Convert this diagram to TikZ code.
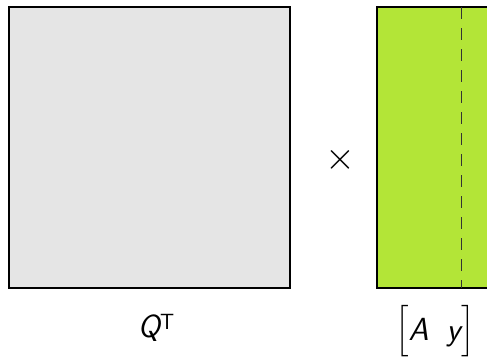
\RequirePackage{fix-cm}
\documentclass[tikz,border=0pt]{standalone}
\usepackage{amsmath}
\usepackage{graphicx}
\definecolor{qgray}{HTML}{E5E5E5}
\definecolor{lime}{HTML}{B3E537}
\tikzset{
  matbox/.style={draw=black, line width=2.2pt},
  lbl/.style={font=\fontsize{32}{38}\selectfont\sffamily},
}
\begin{document}
\begin{tikzpicture}[x=1pt,y=-1pt]
\useasboundingbox (0,0) rectangle (487,357);
\clip (0,0) rectangle (487,357);
% left factor: square matrix Q^T
\draw[matbox, fill=qgray] (9,7) rectangle (290,288);
\node (qbox) at (149.5,147.5) {};
% right factor: augmented matrix [A y]
\draw[matbox, line width=2pt, fill=lime] (377,7) rectangle (520,288);
\coordinate (dtop) at (461,7);
\coordinate (dbot) at (461,288);
\draw[black!80, line width=1pt, dash pattern=on 12pt off 9pt] (dtop) -- (dbot);
% labels
\node[lbl] (times) at (340,160) {\scalebox{1.2}{$\times$}};
\node[lbl] (qlabel) at (156,328) {\itshape Q\raisebox{0.6ex}{\fontsize{22}{26}\selectfont\upshape T}};
\node[lbl] (aylabel) at (435,331) {\scalebox{1.15}{$\big[$}\itshape A\hspace{18pt}y\hspace{1pt}\scalebox{1.15}{$\big]$}};
\end{tikzpicture}
\end{document}
